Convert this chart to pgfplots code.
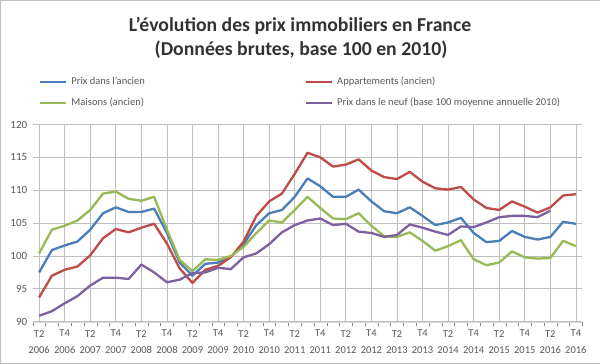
\documentclass[border=0pt]{standalone}
\usepackage{pgfplots}
\pgfplotsset{compat=1.18}
\usepackage{fontspec}
\setmainfont{Carlito}
\definecolor{cblue}{HTML}{4A7EBB}
\definecolor{cred}{HTML}{BE4B48}
\definecolor{cgreen}{HTML}{98B954}
\definecolor{cpurple}{HTML}{7D60A0}
\definecolor{txt}{HTML}{595959}
\definecolor{grid}{HTML}{D9D9D9}
\pgfplotstableread{
i blue red green
0 97.5 93.7 100.4
1 100.9 97.0 104.0
2 101.6 97.9 104.6
3 102.2 98.4 105.4
4 104.0 100.1 107.0
5 106.5 102.7 109.5
6 107.4 104.1 109.8
7 106.7 103.6 108.7
8 106.7 104.3 108.4
9 107.2 104.9 109.0
10 103.5 101.9 104.0
11 99.0 98.1 99.4
12 97.0 95.9 97.7
13 98.8 97.9 99.5
14 99.0 98.5 99.4
15 99.9 99.8 100.0
16 101.8 102.2 101.4
17 104.7 106.1 103.5
18 106.5 108.3 105.4
19 107.0 109.5 105.1
20 109.0 112.5 107.0
21 111.8 115.7 109.0
22 110.6 115.0 107.3
23 109.0 113.6 105.7
24 109.0 113.9 105.6
25 110.1 114.7 106.5
26 108.3 113.0 104.6
27 106.8 112.0 103.0
28 106.5 111.7 102.9
29 107.4 112.8 103.6
30 106.1 111.3 102.3
31 104.7 110.3 100.8
32 105.1 110.1 101.5
33 105.8 110.5 102.4
34 103.5 108.6 99.5
35 102.1 107.3 98.6
36 102.3 107.0 99.0
37 103.8 108.3 100.7
38 102.9 107.5 99.8
39 102.5 106.6 99.6
40 102.9 107.4 99.7
41 105.2 109.2 102.3
42 104.9 109.4 101.5
}\mainA
\pgfplotstableread{
i purple
0 90.9
1 91.6
2 92.8
3 93.9
4 95.5
5 96.7
6 96.7
7 96.5
8 98.7
9 97.5
10 96.0
11 96.4
12 97.4
13 97.5
14 98.2
15 98.0
16 99.8
17 100.4
18 101.8
19 103.6
20 104.7
21 105.4
22 105.7
23 104.7
24 104.9
25 103.7
26 103.5
27 102.9
28 103.2
29 104.8
30 104.3
31 103.7
32 103.2
33 104.5
34 104.4
35 105.1
36 105.9
37 106.1
38 106.1
39 105.9
40 106.9
}\neuf
\begin{document}
\begin{tikzpicture}[x=1bp,y=1bp]
\draw[draw=gray!50, fill=white] (0.5,0.5) rectangle (599.5,363.5);
\node[anchor=base, inner sep=0pt, font=\fontsize{19.7bp}{24bp}\selectfont\bfseries, text=black!80] at (300,332.3) {L'évolution des prix immobiliers en France};
\node[anchor=base, inner sep=0pt, font=\fontsize{19.7bp}{24bp}\selectfont\bfseries, text=black!80] at (301,308) {(Données brutes, base 100 en 2010)};
\begin{axis}[
  at={(33bp,42.3bp)}, anchor=south west,
  scale only axis, width=549bp, height=197bp,
  xmin=-0.5, xmax=42.5, ymin=90, ymax=120,
  ytick={90,95,...,120},
  xtick={0,2,...,42},
  xticklabels={T2\\2006,T4\\2006,T2\\2007,T4\\2007,T2\\2008,T4\\2008,T2\\2009,T4\\2009,T2\\2010,T4\\2010,T2\\2011,T4\\2011,T2\\2012,T4\\2012,T2\\2013,T4\\2013,T2\\2014,T4\\2014,T2\\2015,T4\\2015,T2\\2016,T4\\2016},
  x tick label style={align=center, font=\fontsize{10.5bp}{16bp}\selectfont, text=txt, yshift=-5bp},
  y tick label style={font=\fontsize{11bp}{13bp}\selectfont, text=txt, xshift=-2bp},
  /pgf/number format/assume math mode=true,
  minor xtick={-0.5,0.5,...,42.5},
  major tick length=0pt,
  minor tick length=4bp,
  tick align=outside,
  minor tick style={grid},
  xtick pos=bottom,
  ytick style={draw=none},
  axis x line*=bottom, axis y line*=left,
  x axis line style={grid, -},
  y axis line style={draw=none},
  ymajorgrids, grid style={grid, line width=0.8bp},
  clip=false,
  legend columns=2,
  legend cell align=left,
  legend style={at={(rel axis cs:0.01093,1.1635)}, anchor=west, draw=none, fill=none,
    font=\fontsize{10.5bp}{12bp}\selectfont, text=txt, row sep=10bp, inner sep=0pt,
    nodes={inner sep=0pt, text height=8bp, text depth=3bp},
    /tikz/every odd column/.append style={column sep=4bp},
    /tikz/every even column/.append style={column sep=4bp}},
  legend image code/.code={\draw[#1, line width=2.5bp] (0,0) -- (26bp,0);},
  every axis plot/.append style={line width=2.3bp, line join=round},
]
\addplot[cblue, mark=none] table[x=i,y=blue] {\mainA};
\addlegendentry{\makebox[229bp][l]{Prix dans l'ancien}}
\addplot[cred, mark=none] table[x=i,y=red] {\mainA};
\addlegendentry{Appartements (ancien)}
\addplot[cgreen, mark=none] table[x=i,y=green] {\mainA};
\addlegendentry{\makebox[229bp][l]{Maisons (ancien)}}
\addplot[cpurple, mark=none] table[x=i,y=purple] {\neuf};
\addlegendentry{Prix dans le neuf (base 100 moyenne annuelle 2010)}
\end{axis}
\end{tikzpicture}
\end{document}
